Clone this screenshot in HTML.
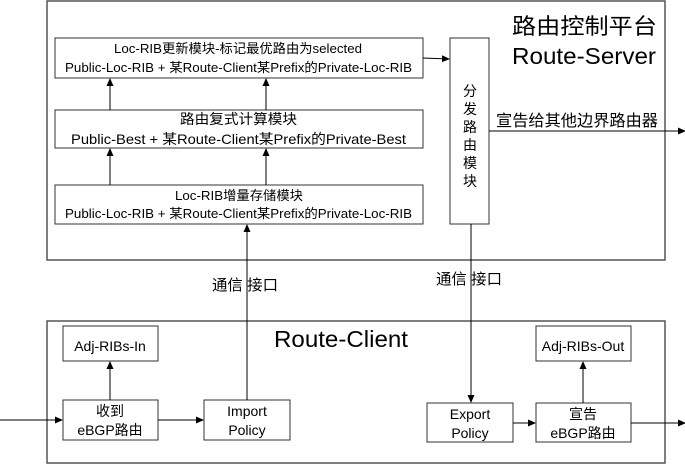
<!DOCTYPE html>
<html><head><meta charset="utf-8"><style>
html,body{margin:0;padding:0;background:#fff}
svg{display:block}
text{font-family:"Liberation Sans","Noto Sans CJK SC",sans-serif;fill:#000}
</style></head><body>
<svg width="685" height="467" viewBox="0 0 685 467" xmlns="http://www.w3.org/2000/svg">
<defs>
<marker id="a" markerWidth="8" markerHeight="8" refX="7" refY="4" orient="auto" markerUnits="userSpaceOnUse">
<path d="M0,0.5 L8,4 L0,7.5 z" fill="#000"/></marker>
</defs>
<g fill="none" stroke="#555" stroke-width="1.5">
<rect x="47" y="1" width="618" height="259"/>
<rect x="47" y="321" width="618" height="142"/>
</g>
<g fill="#fff" stroke="#333" stroke-width="1">
<rect x="55" y="38" width="368" height="40"/>
<rect x="55" y="110" width="368" height="38"/>
<rect x="55" y="185" width="368" height="39"/>
<rect x="450" y="38" width="39" height="186"/>
<rect x="63" y="326" width="95" height="35"/>
<rect x="63" y="400" width="95" height="40"/>
<rect x="204" y="400" width="86" height="40"/>
<rect x="427" y="403" width="86" height="39"/>
<rect x="536" y="403" width="95" height="39"/>
<rect x="536" y="326" width="95" height="35"/>
</g>
<g stroke="#000" stroke-width="1" fill="none">
<line x1="110" y1="110" x2="110" y2="79" marker-end="url(#a)"/>
<line x1="266" y1="110" x2="266" y2="79" marker-end="url(#a)"/>
<line x1="110" y1="185" x2="110" y2="149" marker-end="url(#a)"/>
<line x1="266" y1="185" x2="266" y2="149" marker-end="url(#a)"/>
<line x1="423" y1="58" x2="449" y2="59" marker-end="url(#a)"/>
<line x1="489" y1="131" x2="685" y2="131" marker-end="url(#a)"/>
<line x1="247" y1="400" x2="247" y2="225" marker-end="url(#a)"/>
<line x1="471" y1="224" x2="471" y2="402" marker-end="url(#a)"/>
<line x1="0" y1="420" x2="62" y2="420" marker-end="url(#a)"/>
<line x1="158" y1="420" x2="203" y2="420" marker-end="url(#a)"/>
<line x1="110" y1="400" x2="110" y2="362" marker-end="url(#a)"/>
<line x1="513" y1="423" x2="535" y2="423" marker-end="url(#a)"/>
<line x1="631" y1="423" x2="685" y2="423" marker-end="url(#a)"/>
<line x1="583" y1="403" x2="583" y2="362" marker-end="url(#a)"/>
</g>
<g font-size="13">
<text x="114" y="53" textLength="248" lengthAdjust="spacingAndGlyphs">Loc-RIB更新模块-标记最优路由为selected</text>
<text x="65" y="72" textLength="347" lengthAdjust="spacingAndGlyphs">Public-Loc-RIB + 某Route-Client某Prefix的Private-Loc-RIB</text>
<text x="180" y="124" font-size="14" textLength="117" lengthAdjust="spacingAndGlyphs">路由复式计算模块</text>
<text x="71" y="144" font-size="14" textLength="335" lengthAdjust="spacingAndGlyphs">Public-Best + 某Route-Client某Prefix的Private-Best</text>
<text x="175" y="200" textLength="128" lengthAdjust="spacingAndGlyphs">Loc-RIB增量存储模块</text>
<text x="65" y="218" textLength="347" lengthAdjust="spacingAndGlyphs">Public-Loc-RIB + 某Route-Client某Prefix的Private-Loc-RIB</text>
</g>
<g font-size="14" text-anchor="middle">
<text x="110" y="351">Adj-RIBs-In</text>
<text x="110" y="416">收到</text>
<text x="110" y="435">eBGP路由</text>
<text x="247" y="416">Import</text>
<text x="247" y="435">Policy</text>
<text x="470" y="419">Export</text>
<text x="470" y="438">Policy</text>
<text x="583" y="419">宣告</text>
<text x="583" y="438">eBGP路由</text>
<text x="583" y="351">Adj-RIBs-Out</text>
</g>
<g font-size="14" text-anchor="middle">
<text x="470" y="96">分</text><text x="470" y="114">发</text><text x="470" y="132">路</text><text x="470" y="150">由</text><text x="470" y="168">模</text><text x="470" y="186">块</text>
</g>
<text x="512" y="34" font-size="22" textLength="145" lengthAdjust="spacingAndGlyphs">路由控制平台</text>
<text x="512" y="64" font-size="23" textLength="144" lengthAdjust="spacingAndGlyphs">Route-Server</text>
<text x="496" y="126" font-size="16" textLength="162" lengthAdjust="spacingAndGlyphs">宣告给其他边界路由器</text>
<text x="212" y="290" font-size="15" textLength="66" lengthAdjust="spacingAndGlyphs">通信 接口</text>
<text x="436" y="284" font-size="15" textLength="66" lengthAdjust="spacingAndGlyphs">通信 接口</text>
<text x="274" y="347" font-size="23" textLength="134" lengthAdjust="spacingAndGlyphs">Route-Client</text>
</svg>
</body></html>
